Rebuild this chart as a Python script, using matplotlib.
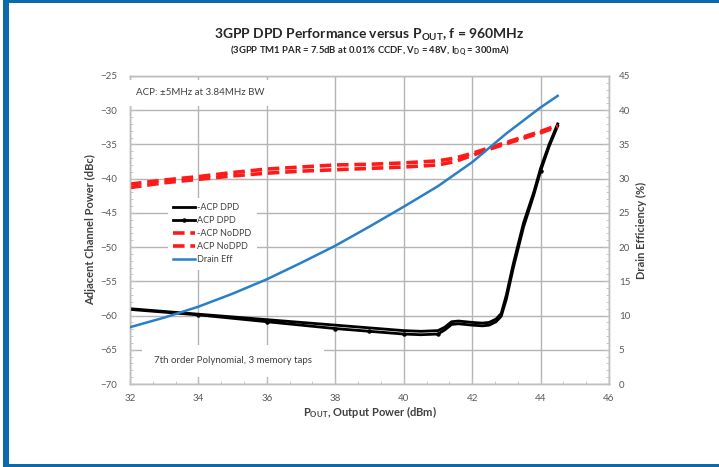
import numpy as np
import matplotlib
matplotlib.use("Agg")
from matplotlib import pyplot as plt
from matplotlib.ticker import MultipleLocator, AutoMinorLocator
from matplotlib.patches import Rectangle

plt.rcParams['font.family'] = ['Lato', 'DejaVu Sans']
plt.rcParams['mathtext.fontset'] = 'custom'
plt.rcParams['mathtext.rm'] = 'Lato'
plt.rcParams['mathtext.bf'] = 'Lato:bold'

# Drain efficiency (%) vs output power
pout_eff = [32, 33, 34, 35, 36, 37, 38, 39, 40, 41, 42, 43, 44, 44.5]
drain_eff = [8.3, 9.7, 11.3, 13.2, 15.3, 17.7, 20.2, 23.0, 25.9, 28.9, 32.4, 36.6, 40.4, 42.1]

# ACP with DPD (dBc)
pout_dpd = [32, 33, 34, 35, 36, 37, 38, 39, 40, 40.5, 41, 41.2, 41.4, 41.6, 41.8, 42,
            42.3, 42.5, 42.7, 42.85, 43, 43.2, 43.5, 43.8, 44, 44.25, 44.5]
acp_lo_dpd = [-59.0, -59.4, -59.8, -60.2, -60.6, -61.0, -61.4, -61.8, -62.2, -62.3, -62.2,
              -61.7, -60.9, -60.8, -60.9, -61.0, -61.1, -61.0, -60.5, -59.7, -57.0, -52.5,
              -46.5, -42.0, -38.5, -35.0, -32.0]
acp_hi_dpd = [-59.1, -59.5, -59.9, -60.4, -60.9, -61.4, -61.9, -62.3, -62.7, -62.8, -62.7,
              -62.1, -61.3, -61.2, -61.3, -61.4, -61.5, -61.4, -60.9, -60.1, -57.6, -53.1,
              -47.1, -42.4, -38.9, -35.3, -32.3]

# ACP without DPD (dBc)
pout_nodpd = [32, 33, 34, 35, 36, 37, 38, 39, 40, 41, 41.5, 42, 42.5, 43, 43.5, 44, 44.5]
acp_lo_nodpd = [-41.3, -40.6, -40.1, -39.6, -39.2, -38.9, -38.7, -38.5, -38.3, -38.0, -37.5,
                -36.6, -35.7, -34.9, -34.1, -33.3, -32.4]
acp_hi_nodpd = [-40.8, -40.2, -39.7, -39.1, -38.6, -38.3, -38.0, -37.9, -37.7, -37.4, -37.0,
                -36.3, -35.5, -34.7, -33.9, -33.1, -32.2]

grid_c = '#b4b4b4'
tick_c = '#595959'

fig = plt.figure(figsize=(7.19, 4.67), dpi=100)
ax = fig.add_axes([0.1808, 0.1777, 0.6662, 0.6596])
ax2 = ax.twinx()

ax.plot(pout_dpd, acp_lo_dpd, color='black', lw=2.0, label='-ACP DPD', zorder=4)
ax.plot(pout_dpd, acp_hi_dpd, color='black', lw=2.0, marker='o', ms=2.2, markevery=[2, 4, 6, 7, 8, 10, 24],
        label='ACP DPD', zorder=4)
ax.plot(pout_nodpd, acp_lo_nodpd, color='#ff1a1a', lw=2.6, dashes=(3.2, 1.6), label='-ACP NoDPD', zorder=4)
ax.plot(pout_nodpd, acp_hi_nodpd, color='#ff1a1a', lw=2.6, dashes=(3.2, 1.6), label='ACP NoDPD', zorder=4)
ax2.plot(pout_eff, drain_eff, color='#2a7fc9', lw=1.8, label='Drain Eff', zorder=4)

ax.set_xlim(32, 46)
ax.set_ylim(-70, -25)
ax2.set_ylim(0, 45)
ax.xaxis.set_major_locator(MultipleLocator(2))
ax.xaxis.set_minor_locator(AutoMinorLocator(3))
ax.yaxis.set_major_locator(MultipleLocator(5))
ax.yaxis.set_minor_locator(MultipleLocator(1))
ax2.yaxis.set_major_locator(MultipleLocator(5))
ax2.yaxis.set_minor_locator(MultipleLocator(1))

ax.grid(True, which='major', color=grid_c, lw=1.0, zorder=0)
ax.set_axisbelow(True)

for a in (ax, ax2):
    for s in a.spines.values():
        s.set_color('#bfbfbf')
        s.set_linewidth(1.0)
ax.tick_params(which='both', direction='in', color='#bfbfbf', labelsize=7, labelcolor=tick_c)
ax.tick_params(axis='y', which='both', pad=9, right=False)
ax.tick_params(axis='x', which='both', pad=7, top=False)
ax.tick_params(which='major', length=4)
ax.tick_params(which='minor', length=2.5)
ax2.tick_params(which='both', direction='in', color='#bfbfbf', labelsize=7, labelcolor=tick_c, pad=7)
ax2.tick_params(which='major', length=4)
ax2.tick_params(which='minor', length=2.5)

ax.set_xlabel(r'P$_{\mathbf{OUT}}$, Output Power (dBm)', fontsize=8, fontweight='bold',
              color='#404040', labelpad=1)
ax.set_ylabel('Adjacent Channel Power (dBc)', fontsize=8, fontweight='bold', color='#404040', labelpad=3)
ax2.set_ylabel('Drain Efficiency (%)', fontsize=8, fontweight='bold', color='#404040', labelpad=4)

fig.text(0.514, 0.925, r'3GPP DPD Performance versus P$_{\mathbf{OUT}}$, f = 960MHz',
         ha='center', va='center', fontsize=10, fontweight='bold', color='#262626')
fig.text(0.514, 0.891, r'(3GPP TM1 PAR = 7.5dB at 0.01% CCDF, V$_{\mathbf{D}}$ = 48V, I$_{\mathbf{DQ}}$ = 300mA)',
         ha='center', va='center', fontsize=6.8, fontweight='bold', color='#262626')

ax2.text(0.012, 0.945, 'ACP: \u00b15MHz at 3.84MHz BW', transform=ax.transAxes, fontsize=7,
         color='#404040', va='center', ha='left', zorder=6,
         bbox=dict(facecolor='white', edgecolor='none', pad=6))
ax2.text(0.05, 0.075, '7th order Polynomial, 3 memory taps', transform=ax.transAxes, fontsize=7,
         color='#404040', va='center', ha='left', zorder=6,
         bbox=dict(facecolor='white', edgecolor='none', boxstyle='square,pad=1.2'))

h1, l1 = ax.get_legend_handles_labels()
h2, l2 = ax2.get_legend_handles_labels()
leg = ax2.legend(h1 + h2, l1 + l2, loc='upper left', bbox_to_anchor=(0.07, 0.62), frameon=True,
                 fontsize=6.5, handlelength=2.4, handletextpad=0.2, labelspacing=0.45,
                 borderpad=0.6, labelcolor='#404040')
leg.get_frame().set_facecolor('white')
leg.get_frame().set_edgecolor('none')
leg.get_frame().set_alpha(1)
leg.set_zorder(6)

# blue frame around the figure
border = '#0b6baa'
fig.add_artist(Rectangle((0.004, 0.0), 0.008, 1.0, transform=fig.transFigure, color=border, lw=0))
fig.add_artist(Rectangle((0.004, 0.993), 0.996, 0.007, transform=fig.transFigure, color=border, lw=0))
fig.add_artist(Rectangle((0.004, 0.0), 0.996, 0.006, transform=fig.transFigure, color=border, lw=0))

fig.savefig('out.png', dpi=100)
